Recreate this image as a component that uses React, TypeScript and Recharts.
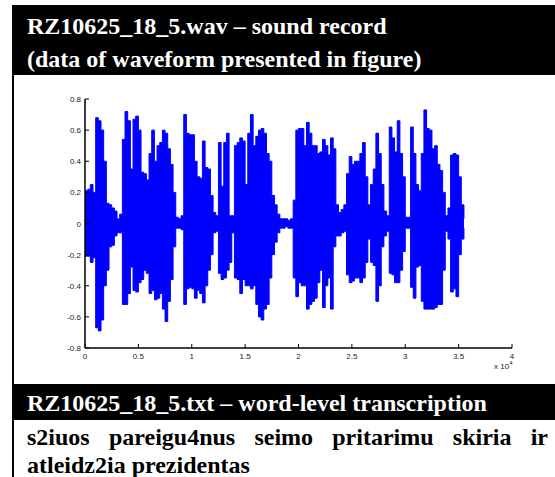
import React from "react";
import { ComposedChart, Area, XAxis, YAxis } from "recharts";

// waveform envelope, one point every 250 samples (upper / lower peak)
const SAMPLE_STEP = 250;
const UPPER = [
  0.21, 0.22, 0.25, 0.2, 0.68, 0.66, 0.6, 0.4, 0.13, 0.12, 0.1, 0.08, 0.03, 0.06, 0.54, 0.72, 0.66, 0.35, 0.67, 0.69,
  0.6, 0.33, 0.32, 0.28, 0.45, 0.6, 0.4, 0.5, 0.52, 0.6, 0.58, 0.48, 0.38, 0.2, 0.04, 0.03, 0.05, 0.7, 0.58, 0.57,
  0.57, 0.4, 0.3, 0.29, 0.53, 0.36, 0.35, 0.18, 0.07, 0.05, 0.52, 0.24, 0.52, 0.58, 0.05, 0.05, 0.5, 0.52, 0.55, 0.53,
  0.25, 0.58, 0.7, 0.5, 0.56, 0.6, 0.61, 0.58, 0.45, 0.4, 0.18, 0.12, 0.06, 0.03, 0.03, 0.03, 0.02, 0.03, 0.15, 0.6,
  0.61, 0.61, 0.5, 0.65, 0.58, 0.5, 0.5, 0.45, 0.46, 0.54, 0.5, 0.44, 0.55, 0.48, 0.12, 0.07, 0.09, 0.12, 0.32, 0.43,
  0.38, 0.4, 0.4, 0.45, 0.52, 0.3, 0.12, 0.25, 0.35, 0.58, 0.45, 0.25, 0.08, 0.05, 0.62, 0.55, 0.46, 0.66, 0.45, 0.3,
  0.04, 0.04, 0.62, 0.45, 0.25, 0.21, 0.45, 0.73, 0.61, 0.6, 0.48, 0.5, 0.38, 0.34, 0.2, 0.05, 0.1, 0.44, 0.45, 0.44,
  0.3, 0.12, 0.03,
];
const LOWER = [
  -0.21, -0.21, -0.25, -0.22, -0.67, -0.69, -0.62, -0.4, -0.3, -0.15, -0.14, -0.08, -0.06, -0.06, -0.52, -0.52, -0.45, -0.28, -0.43, -0.44,
  -0.38, -0.36, -0.3, -0.32, -0.45, -0.43, -0.49, -0.48, -0.45, -0.55, -0.63, -0.5, -0.36, -0.15, -0.03, -0.03, -0.04, -0.52, -0.42, -0.41,
  -0.42, -0.48, -0.43, -0.45, -0.51, -0.4, -0.3, -0.2, -0.06, -0.05, -0.32, -0.36, -0.35, -0.3, -0.25, -0.06, -0.35, -0.36, -0.45, -0.36,
  -0.4, -0.4, -0.42, -0.4, -0.52, -0.6, -0.62, -0.55, -0.52, -0.35, -0.2, -0.12, -0.06, -0.03, -0.03, -0.02, -0.03, -0.03, -0.35, -0.47,
  -0.38, -0.4, -0.4, -0.55, -0.52, -0.5, -0.48, -0.38, -0.3, -0.54, -0.4, -0.35, -0.55, -0.15, -0.08, -0.08, -0.06, -0.05, -0.33, -0.38,
  -0.37, -0.35, -0.35, -0.38, -0.35, -0.25, -0.1, -0.25, -0.27, -0.5, -0.4, -0.15, -0.08, -0.05, -0.32, -0.33, -0.38, -0.38, -0.3, -0.18,
  -0.03, -0.03, -0.41, -0.48, -0.28, -0.27, -0.5, -0.55, -0.55, -0.55, -0.55, -0.54, -0.52, -0.52, -0.3, -0.05, -0.1, -0.44, -0.42, -0.47,
  -0.2, -0.1, -0.03,
];

const X_TICKS = [0, 5000, 10000, 15000, 20000, 25000, 30000, 35000, 40000];
const X_TICK_LABELS = ["0", "0.5", "1", "1.5", "2", "2.5", "3", "3.5", "4"];
const Y_TICKS = [-0.8, -0.6, -0.4, -0.2, 0, 0.2, 0.4, 0.6, 0.8];
const Y_TICK_LABELS = ["-0.8", "-0.6", "-0.4", "-0.2", "0", "0.2", "0.4", "0.6", "0.8"];

const data = UPPER.map((hi, i) => ({ sample: i * SAMPLE_STEP, range: [LOWER[i], hi] }));

const TICK_LEN = 4;
const tickFont = { fontFamily: "'Liberation Sans', Arial, sans-serif", fontSize: 8, fill: "#222" };
const serif = "'Liberation Serif', 'Times New Roman', serif";

// MATLAB style: tick marks point into the box
const BottomTick = ({ x, y, payload }: any) => (
  <g>
    <line x1={x} y1={y} x2={x} y2={y - TICK_LEN} stroke="#000" />
    <text x={x} y={y + 11} textAnchor="middle" {...tickFont}>
      {X_TICK_LABELS[X_TICKS.indexOf(payload.value)]}
    </text>
  </g>
);
const TopTick = ({ x, y }: any) => <line x1={x} y1={y} x2={x} y2={y + TICK_LEN} stroke="#000" />;
const LeftTick = ({ x, y, payload }: any) => (
  <g>
    <line x1={x} y1={y} x2={x + TICK_LEN} y2={y} stroke="#000" />
    <text x={x - 4} y={y + 3} textAnchor="end" {...tickFont}>
      {Y_TICK_LABELS[Y_TICKS.indexOf(payload.value)]}
    </text>
  </g>
);
const RightTick = ({ x, y }: any) => <line x1={x} y1={y} x2={x - TICK_LEN} y2={y} stroke="#000" />;

const axisLine = { stroke: "#000", strokeWidth: 1.5 };

export default function App() {
  return (
    <div style={{ position: "absolute", left: 0, top: 0, width: 555, height: 477, background: "#fff", overflow: "hidden" }}>
      {/* top header */}
      <div
        style={{
          position: "absolute", left: 12, top: 5, width: 543, height: 70, background: "#000", color: "#fff",
          fontFamily: serif, fontWeight: "bold", fontSize: 24, lineHeight: "33px", paddingLeft: 15, paddingTop: 5,
          boxSizing: "border-box",
        }}
      >
        <div>RZ10625_18_5.wav – sound record</div>
        <div>(data of waveform presented in figure)</div>
      </div>
      <div style={{ position: "absolute", left: 12, top: 5, width: 2, height: 472, background: "#000" }} />

      <div style={{ position: "absolute", left: 0, top: 80 }}>
        <ComposedChart width={555} height={300} data={data} margin={{ top: 19, right: 43, bottom: 0, left: 0 }}>
          <XAxis
            dataKey="sample" type="number" domain={[0, 40000]} ticks={X_TICKS} interval={0}
            height={32} tickSize={0} tickMargin={0} tickLine={false} axisLine={axisLine} tick={<BottomTick />}
          />
          <XAxis
            xAxisId="top" orientation="top" dataKey="sample" type="number" domain={[0, 40000]} ticks={X_TICKS}
            interval={0} height={0} tickSize={0} tickMargin={0} tickLine={false} axisLine={axisLine} tick={<TopTick />}
          />
          <YAxis
            type="number" domain={[-0.8, 0.8]} ticks={Y_TICKS} interval={0} width={85}
            tickSize={0} tickMargin={0} tickLine={false} axisLine={axisLine} tick={<LeftTick />}
          />
          <YAxis
            yAxisId="right" orientation="right" type="number" domain={[-0.8, 0.8]} ticks={Y_TICKS} interval={0}
            width={0} tickSize={0} tickMargin={0} tickLine={false} axisLine={axisLine} tick={<RightTick />}
          />
          <Area
            dataKey="range" type="stepAfter" stroke="#0000ff" strokeWidth={1} fill="#0000ff" fillOpacity={1}
            dot={false} activeDot={false} isAnimationActive={false}
          />
        </ComposedChart>
      </div>
      <div style={{ position: "absolute", left: 494, top: 362, fontFamily: "'Liberation Sans', Arial, sans-serif", fontSize: 8, color: "#222" }}>
        x 10<span style={{ fontSize: 6, position: "relative", top: -4 }}>4</span>
      </div>

      {/* bottom header */}
      <div
        style={{
          position: "absolute", left: 12, top: 384, width: 543, height: 36, background: "#000", color: "#fff",
          fontFamily: serif, fontWeight: "bold", fontSize: 24, lineHeight: "38px", paddingLeft: 15, boxSizing: "border-box",
        }}
      >
        RZ10625_18_5.txt – word-level transcription
      </div>
      <div
        style={{
          position: "absolute", left: 27, top: 423, width: 521, fontFamily: serif, fontWeight: "bold", fontSize: 24,
          lineHeight: "28px", textAlign: "justify", color: "#000",
        }}
      >
        s2iuos pareigu4nus seimo pritarimu skiria ir atleidz2ia prezidentas
      </div>
    </div>
  );
}
